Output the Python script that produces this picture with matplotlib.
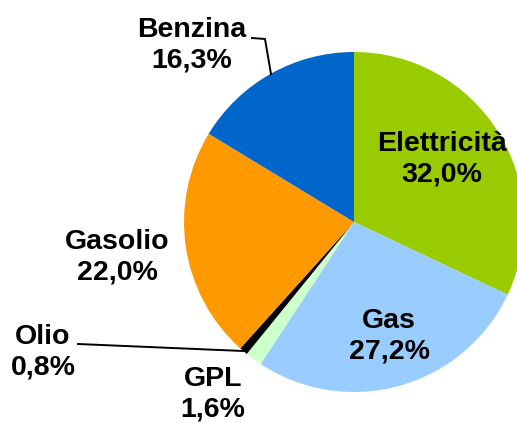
import matplotlib.pyplot as plt

labels = ["Elettricità", "Gas", "GPL", "Olio", "Gasolio", "Benzina"]
values = [32.0, 27.2, 1.6, 0.8, 22.0, 16.3]
colors = ["#99CC00", "#99CCFF", "#CCFFCC", "#000000", "#FF9900", "#0066CC"]

# pixel geometry of the reference: centre (354, 222), radius 170
cx, cy, r = 354, 222, 170
W, H = 517, 423


def px(x, y):
    return (x - cx) / r, (cy - y) / r


fig = plt.figure(figsize=(W / 100, H / 100), dpi=100)
ax = fig.add_axes([0, 0, 1, 1])
ax.pie(values, colors=colors, startangle=90, counterclock=False,
       radius=1, wedgeprops=dict(linewidth=0))
ax.set_xlim(-cx / r, (W - cx) / r)
ax.set_ylim((cy - H) / r, cy / r)
ax.set_aspect("equal")
ax.axis("off")

# label centres in pixels
label_pos = {
    "Elettricità": (442, 159),
    "Gas": (389, 336),
    "GPL": (213, 394),
    "Olio": (43, 352),
    "Gasolio": (117, 257),
    "Benzina": (192, 45),
}
font = dict(family=["Liberation Sans", "DejaVu Sans"], fontsize=20.5,
            fontweight="bold", ha="center", va="center", linespacing=1.22)
for lab, val in zip(labels, values):
    x, y = px(*label_pos[lab])
    ax.text(x, y, f"{lab}\n{val:.1f}%".replace(".", ","), **font)

# leader lines
bx, by = zip(*[px(252, 38), px(265, 39), px(271, 74)])
ax.plot(bx, by, color="black", lw=1.4)
ox, oy = zip(*[px(78, 344), px(243, 351)])
ax.plot(ox, oy, color="black", lw=1.4)

fig.savefig("out.png", dpi=100)
